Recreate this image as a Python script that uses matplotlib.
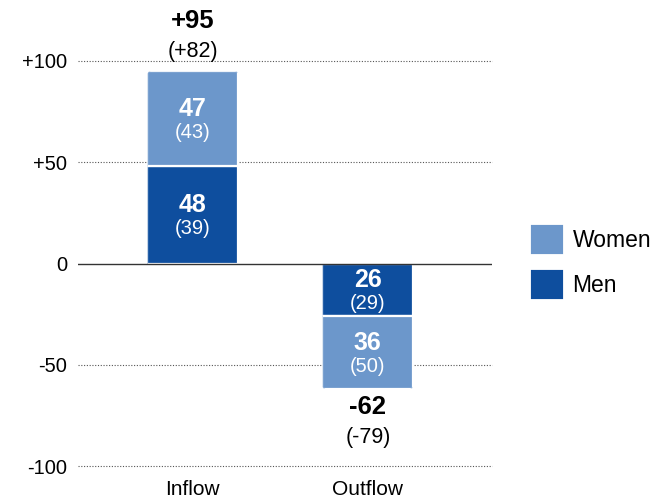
import matplotlib
matplotlib.use("Agg")
import matplotlib.pyplot as plt
from matplotlib.patches import Patch, FancyBboxPatch

plt.rcParams['font.family'] = ['Liberation Sans', 'DejaVu Sans']

categories = ["Inflow", "Outflow"]
men = [48, -26]
women = [47, -36]
men_prev = [39, 29]
women_prev = [43, 50]
totals = [95, -62]
totals_prev = [82, -79]
yticks = [-100, -50, 0, 50, 100]
ytick_labels = ["-100", "-50", "0", "+50", "+100"]

c_women = "#6C97CB"
c_men = "#0E4E9E"

fig = plt.figure(figsize=(6.61, 5.0), dpi=100)
ax = fig.add_axes([78 / 661, 34 / 500, 414 / 661, 405 / 500])

x = list(range(len(categories)))
width = 0.52

bars_men = ax.bar(x, men, width=width, color=c_men, edgecolor="white",
                  linewidth=1.6, zorder=3)
bars_women = ax.bar(x, women, width=width, bottom=men, color=c_women,
                    edgecolor="white", linewidth=1.6, zorder=3)

ax.set_xlim(-0.657, 1.71)
ax.set_ylim(-100, 100)

# round the outer end of each stacked bar by clipping both segments
r_x = 0.022
aspect = 90
for i in x:
    t = men[i] + women[i]
    lo, hi = (-10, t) if t > 0 else (t, 10)
    clip = FancyBboxPatch((i - width / 2, lo), width, hi - lo,
                          boxstyle=f"round,pad=0,rounding_size={r_x}",
                          mutation_aspect=aspect, transform=ax.transData,
                          facecolor="none", edgecolor="none")
    for b in (bars_men[i], bars_women[i]):
        b.set_clip_path(clip)

for y in [-100, -50, 50, 100]:
    ax.axhline(y, color="#555555", linestyle=(0, (1, 1.5)), linewidth=0.8,
               zorder=1, clip_on=False)
ax.axhline(0, color="#333333", linewidth=1.0, zorder=4)

for s in ax.spines.values():
    s.set_visible(False)
ax.set_yticks(yticks)
ax.set_yticklabels(ytick_labels, fontsize=14.5)
ax.set_xticks(x)
ax.set_xticklabels(categories, fontsize=15)
ax.tick_params(axis="both", length=0)
ax.tick_params(axis="y", pad=8)
ax.tick_params(axis="x", pad=10)

# segment labels: current value (bold) over prior value
for i in x:
    for val, prev, base in ((men[i], men_prev[i], 0), (women[i], women_prev[i], men[i])):
        yc = base + val / 2
        ax.annotate(f"{abs(val)}", (i, yc), xytext=(0, 7), textcoords="offset points",
                    ha="center", va="center", fontsize=18, fontweight="bold",
                    color="white", zorder=5)
        ax.annotate(f"({prev})", (i, yc), xytext=(0, -10), textcoords="offset points",
                    ha="center", va="center", fontsize=14.5, color="white", zorder=5)

# totals beyond the end of each bar: bold current total, prior total in brackets
for i in x:
    t = totals[i]
    tp = totals_prev[i]
    t_txt = f"+{t}" if t > 0 else f"{t}"
    tp_txt = f"(+{tp})" if tp > 0 else f"({tp})"
    if t > 0:
        off_t, off_p = 36, 14
    else:
        off_t, off_p = -13, -35
    ax.annotate(t_txt, (i, t), xytext=(0, off_t), textcoords="offset points",
                ha="center", va="center", fontsize=18.5, fontweight="bold",
                color="black", annotation_clip=False)
    ax.annotate(tp_txt, (i, t), xytext=(0, off_p), textcoords="offset points",
                ha="center", va="center", fontsize=15.5, color="black",
                annotation_clip=False)

handles = [Patch(facecolor=c_women, edgecolor=c_women, linewidth=3, joinstyle="round", label="Women"),
           Patch(facecolor=c_men, edgecolor=c_men, linewidth=3, joinstyle="round", label="Men")]
fig.legend(handles=handles, loc="center left", bbox_to_anchor=(522 / 661, 1 - 262 / 500),
           frameon=False, fontsize=16.5, handlelength=1.2, handleheight=1.3,
           labelspacing=0.85, handletextpad=0.5, borderpad=0)

fig.savefig("out.png", dpi=100)
